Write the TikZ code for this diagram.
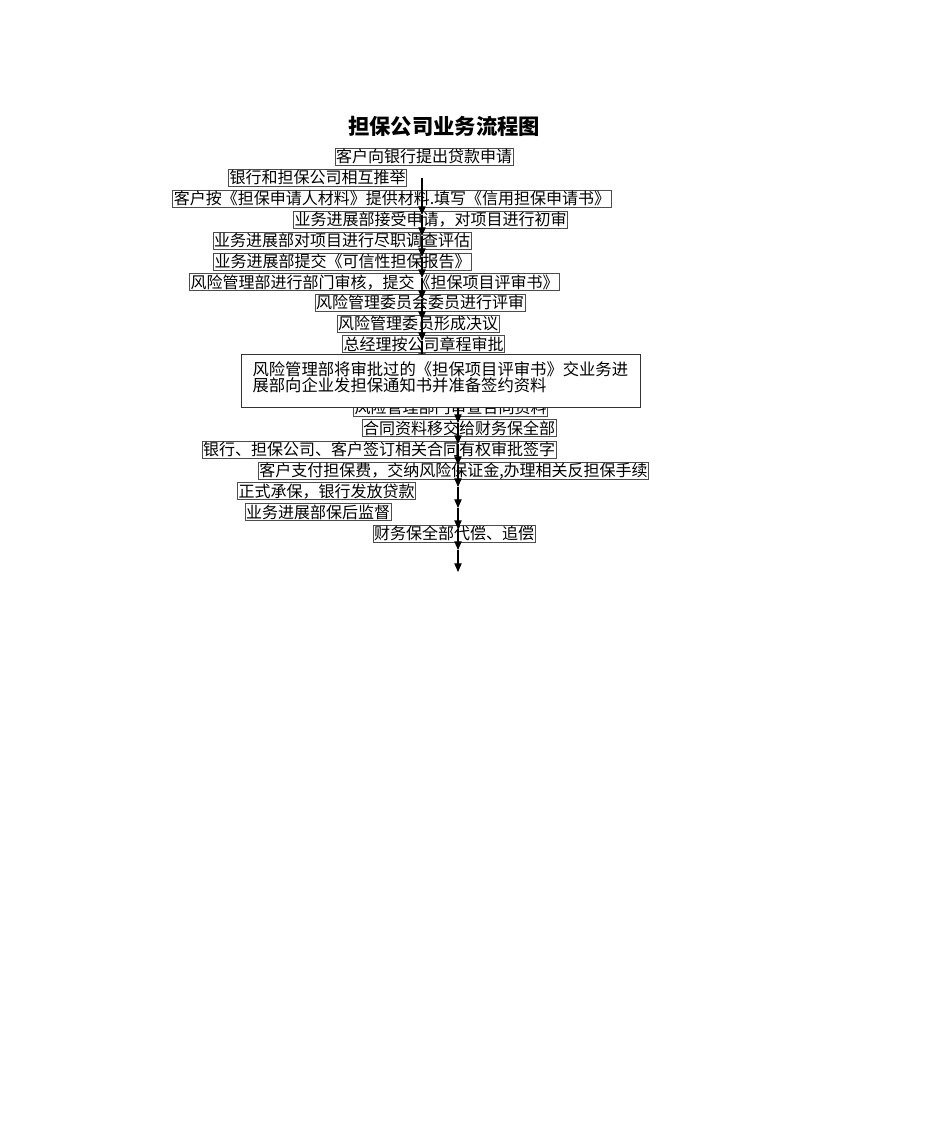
\documentclass[tikz,border=0pt]{standalone}
\usepackage{fontspec}
\setmainfont{Noto Sans CJK SC}
\usetikzlibrary{arrows.meta}

\begin{document}
\begin{tikzpicture}[x=0.75pt,y=-0.75pt,>={Triangle[length=6.5pt,width=5.5pt]},
every node/.style={font=\fontsize{12pt}{12.5pt}\selectfont},
rowbox/.style={draw=black!70,line width=0.5pt,fill=white,inner xsep=0.75pt,inner ysep=0.35pt,text height=10.5pt,text depth=1.5pt},
bigbox/.style={draw=black!80,line width=0.6pt,fill=white,minimum width=299.25pt,minimum height=39.75pt,text width=282pt,align=left,inner xsep=8.6pt,text height=10.5pt,text depth=18.5pt,font=\fontsize{12.25pt}{12.5pt}\selectfont},
flow/.style={->,line width=0.8pt}]

\useasboundingbox (0,0) rectangle (950,1129);

\node[font=\fontsize{16pt}{18pt}\selectfont\bfseries] (title) at (444,126) {担保公司业务流程图};

\node[rowbox] (r1)  at (424,156.5) {客户向银行提出贷款申请};
\node[rowbox] (r2)  at (317.5,177.5) {银行和担保公司相互推举};
\node[rowbox] (r3)  at (392,198.5) {客户按《担保申请人材料》提供材料.填写《信用担保申请书》};
\node[rowbox] (r4)  at (430.5,219.5) {业务进展部接受申请，对项目进行初审};
\node[rowbox] (r5)  at (342,240.5) {业务进展部对项目进行尽职调查评估};
\node[rowbox] (r6)  at (342.5,261.5) {业务进展部提交《可信性担保报告》};
\node[rowbox] (r7)  at (374.5,282) {风险管理部进行部门审核，提交《担保项目评审书》};
\node[rowbox] (r8)  at (420,302.5) {风险管理委员会委员进行评审};
\node[rowbox] (r9)  at (418,323.5) {风险管理委员形成决议};
\node[rowbox] (r10) at (423.5,344) {总经理按公司章程审批};
\node[rowbox] (r11) at (450.5,407.5) {风险管理部门审查合同资料};
\node[rowbox] (r12) at (459,428) {合同资料移交给财务保全部};
\node[rowbox] (r13) at (379,449.5) {银行、担保公司、客户签订相关合同有权审批签字};
\node[rowbox] (r14) at (453.5,470.5) {客户支付担保费，交纳风险保证金,办理相关反担保手续};
\node[rowbox] (r15) at (326.5,491) {正式承保，银行发放贷款};
\node[rowbox] (r16) at (318,512) {业务进展部保后监督};
\node[rowbox] (r17) at (454,533.5) {财务保全部代偿、追偿};

% upper chain
\coordinate (u0) at (422,178);
\coordinate (u1) at (422,215);
\coordinate (u2) at (422,236);
\coordinate (u3) at (422,257);
\coordinate (u4) at (422,278);
\coordinate (u5) at (422,299);
\coordinate (u6) at (422,320);
\coordinate (u7) at (422,341);
\coordinate (u8) at (422,362);

\draw[flow] (u0) -- (u1);
\draw[flow] (u1) -- (u2);
\draw[flow] (u2) -- (u3);
\draw[flow] (u3) -- (u4);
\draw[flow] (u4) -- (u5);
\draw[flow] (u5) -- (u6);
\draw[flow] (u6) -- (u7);
\draw[flow] (u7) -- (u8);

% lower chain
\coordinate (l0) at (458,380);
\coordinate (l1) at (458,401);
\coordinate (l2) at (458,423);
\coordinate (l3) at (458,444);
\coordinate (l4) at (458,465);
\coordinate (l5) at (458,487);
\coordinate (l6) at (458,508);
\coordinate (l7) at (458,529);
\coordinate (l8) at (458,550);
\coordinate (l9) at (458,572);

\draw[flow] (l0) -- (l1);
\draw[flow] (l1) -- (l2);
\draw[flow] (l2) -- (l3);
\draw[flow] (l3) -- (l4);
\draw[flow] (l4) -- (l5);
\draw[flow] (l5) -- (l6);
\draw[flow] (l6) -- (l7);
\draw[flow] (l7) -- (l8);
\draw[flow] (l8) -- (l9);

\node[bigbox] (big) at (440.5,380.5) {风险管理部将审批过的《担保项目评审书》交业务进\\展部向企业发担保通知书并准备签约资料};

\end{tikzpicture}
\end{document}
